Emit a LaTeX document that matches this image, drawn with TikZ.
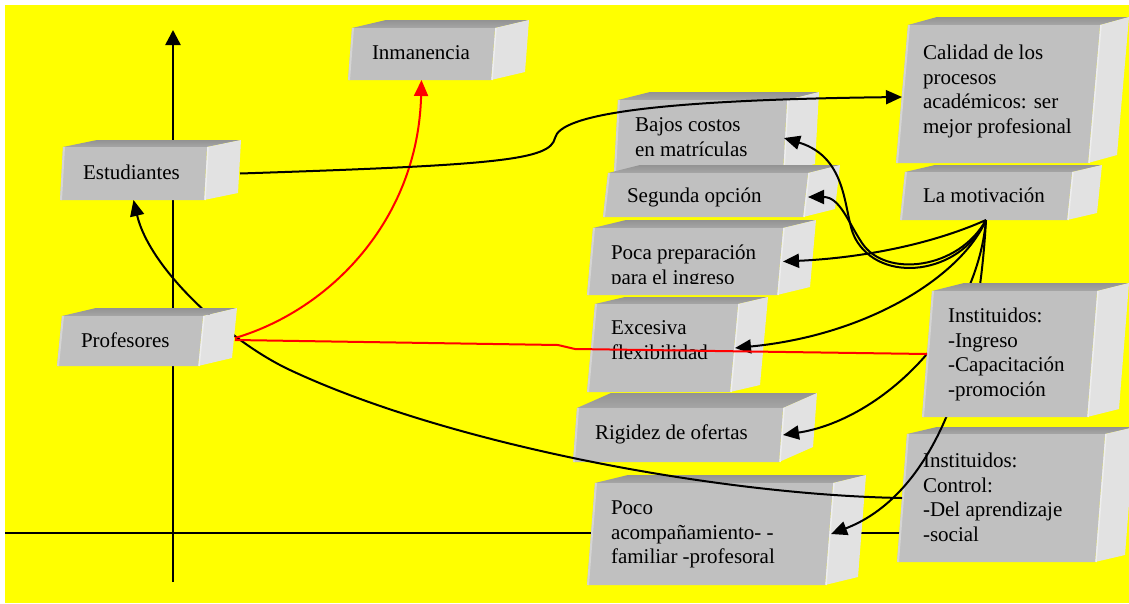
\documentclass[tikz,border=0pt]{standalone}
\usepackage{fontspec}
\setmainfont{Liberation Serif}
\usetikzlibrary{arrows.meta,fit}
\definecolor{bgy}{HTML}{FFFF00}
\definecolor{frontc}{HTML}{C0C0C0}
\definecolor{topc}{HTML}{939393}
\definecolor{topl}{HTML}{A6A6A6}
\definecolor{sidec}{HTML}{E2E2E2}
\definecolor{edgec}{HTML}{D4D4D4}
\definecolor{sidel}{HTML}{EEEEEE}
% #1 name, #2 xl, #3 xr, #4 yt, #5 yb, #6 skew, #7 dx, #8 dy
\newcommand{\cubebox}[8]{%
  \shade[top color=topc,bottom color=topl] (#2,#4) -- ({#2+#7},{#4-#8}) -- ({#3+#7},{#4-#8}) -- (#3,#4) -- cycle;
  \fill[sidec] (#3,#4) -- ({#3+#7},{#4-#8}) -- ({#3+#7-#6},{#5-#8}) -- ({#3-#6},#5) -- cycle;
  \draw[sidel,line width=1.5pt] ({#3+1},#4) -- ({#3-#6+1},#5);
  \fill[frontc] (#2,#4) -- (#3,#4) -- ({#3-#6},#5) -- ({#2-#6},#5) -- cycle;
  \draw[edgec,line width=2pt] ({#2+1},#4) -- ({#2-#6+1},#5);
  \node[fit={({#2-#6},#4) (#3,#5)},inner sep=0pt,outer sep=0pt] (#1) {};
}
\begin{document}
\begin{tikzpicture}[x=1pt,y=-1pt,
  txt/.style={anchor=north west,inner sep=0pt,outer sep=0pt,align=left,font=\fontsize{21}{24.4}\selectfont,text=black},
  conn/.style={line width=2pt,-{Triangle[length=16pt,width=14pt]}},
  redconn/.style={red,line width=2pt},
  axis/.style={line width=2.5pt}]
\clip (0,0) rectangle (1129,603);
\fill[white] (0,0) rectangle (1129,603);
\fill[bgy] (5,5) rectangle (1129,603);
% axes
\coordinate (xa1) at (5,533);
\coordinate (xa2) at (900,533);
\coordinate (ya1) at (173,582);
\coordinate (ya2) at (173,30);
\draw[axis] (xa1) -- (xa2);
\draw[axis,-{Triangle[length=15pt,width=15pt]}] (ya1) -- (ya2);
% boxes (first layer)
\cubebox{inm}{352}{495}{28}{80}{4}{34}{8}
\node[txt] (inm-t) at (372,42.9) {\strut Inmanencia};
\cubebox{est}{63}{207}{147}{200}{3}{34}{7}
\node[txt] (est-t) at (83,162.9) {\strut Estudiantes};
\cubebox{cal}{908}{1100}{25}{163}{12}{29}{8}
\node[txt] (cal-t) at (923,42.9) {\strut Calidad de los\\procesos\\académicos: ser\\mejor profesional};
\cubebox{mot}{905}{1072}{172}{220}{5}{30}{7}
\node[txt] (mot-t) at (923,185.9) {\strut La motivación};
\cubebox{baj}{618}{787}{100}{172}{4}{32}{8}
\node[txt] (baj-t) at (635,114.9) {\strut Bajos costos\\en matrículas};
\cubebox{seg}{608}{808}{173}{217}{5}{32}{8}
\node[txt] (seg-t) at (627,185.9) {\strut Segunda opción};
\cubebox{poca}{593}{783}{228}{295}{6}{33}{8}
\begin{scope}
\clip (580,230) rectangle (800,283);
\node[txt] (poca-t) at (611,242.9) {\strut Poca preparación\\para el ingreso};
\end{scope}
\cubebox{exc}{595}{738}{304}{392}{8}{30}{7}
\node[txt] (exc-t) at (611,317.9) {\strut Excesiva\\flexibilidad};
\cubebox{rig}{577}{783}{408}{462}{4}{34}{15}
\node[txt] (rig-t) at (595,422.9) {\strut Rigidez de ofertas};
\cubebox{poco}{595}{833}{483}{585}{8}{33}{8}
\node[txt] (poco-t) at (611,497.9) {\strut Poco\\acompañamiento- -\\familiar -profesoral};
\cubebox{ctl}{907}{1105}{434}{562}{10}{30}{7}
\node[txt] (ctl-t) at (923,450.9) {\strut Instituidos:\\Control:\\-Del aprendizaje\\-social};
% long curve, passing behind Profesores, from the Control box
\draw[conn] ([xshift=5pt]ctl.west) .. controls (720,495) and (450,445) .. (290,370)
   .. controls (230,342) and (150,270) .. (est.south);
% boxes (second layer)
\cubebox{prof}{62}{203}{316}{366}{5}{34}{8}
\node[txt] (prof-t) at (81,330.9) {\strut Profesores};
% connectors
\draw[redconn,-{Triangle[length=16pt,width=14pt]}] ([xshift=32pt,yshift=3pt]prof.east) .. controls (330,310) and (418,220) .. (inm.south);
\draw[conn] ([xshift=33pt]est.east) .. controls (500,165) and (550,160) .. (555,138)
   .. controls (560,115) and (650,100) .. ([xshift=6pt,yshift=-3pt]cal.west);
\draw[conn] (mot.south) .. controls (960,275) and (880,285) .. (855,238)
   .. controls (843,215) and (850,158) .. ([xshift=-3pt,yshift=-2pt]baj.east);
\draw[conn] (mot.south) .. controls (958,270) and (885,278) .. (862,243)
   .. controls (848,222) and (840,197) .. ([yshift=-2pt]seg.east);
\draw[conn] (mot.south) .. controls (930,245) and (860,258) .. (poca.east);
\draw[conn] (mot.south) .. controls (962,275) and (870,335) .. ([xshift=-3pt]exc.east);
\draw[conn] (mot.south) .. controls (976,330) and (880,420) .. (rig.east);
\draw[conn] (mot.south) .. controls (976,400) and (920,500) .. ([xshift=-2pt]poco.east);
% top layer
\cubebox{ing}{932}{1097}{291}{417}{10}{32}{8}
\node[txt] (ing-t) at (948,305.9) {\strut Instituidos:\\-Ingreso\\-Capacitación\\-promoción};
\draw[redconn] ([xshift=32pt,yshift=1pt]prof.east) -- (558,345) -- (575,349) -- ([xshift=5pt]ing.west);
\end{tikzpicture}
\end{document}
